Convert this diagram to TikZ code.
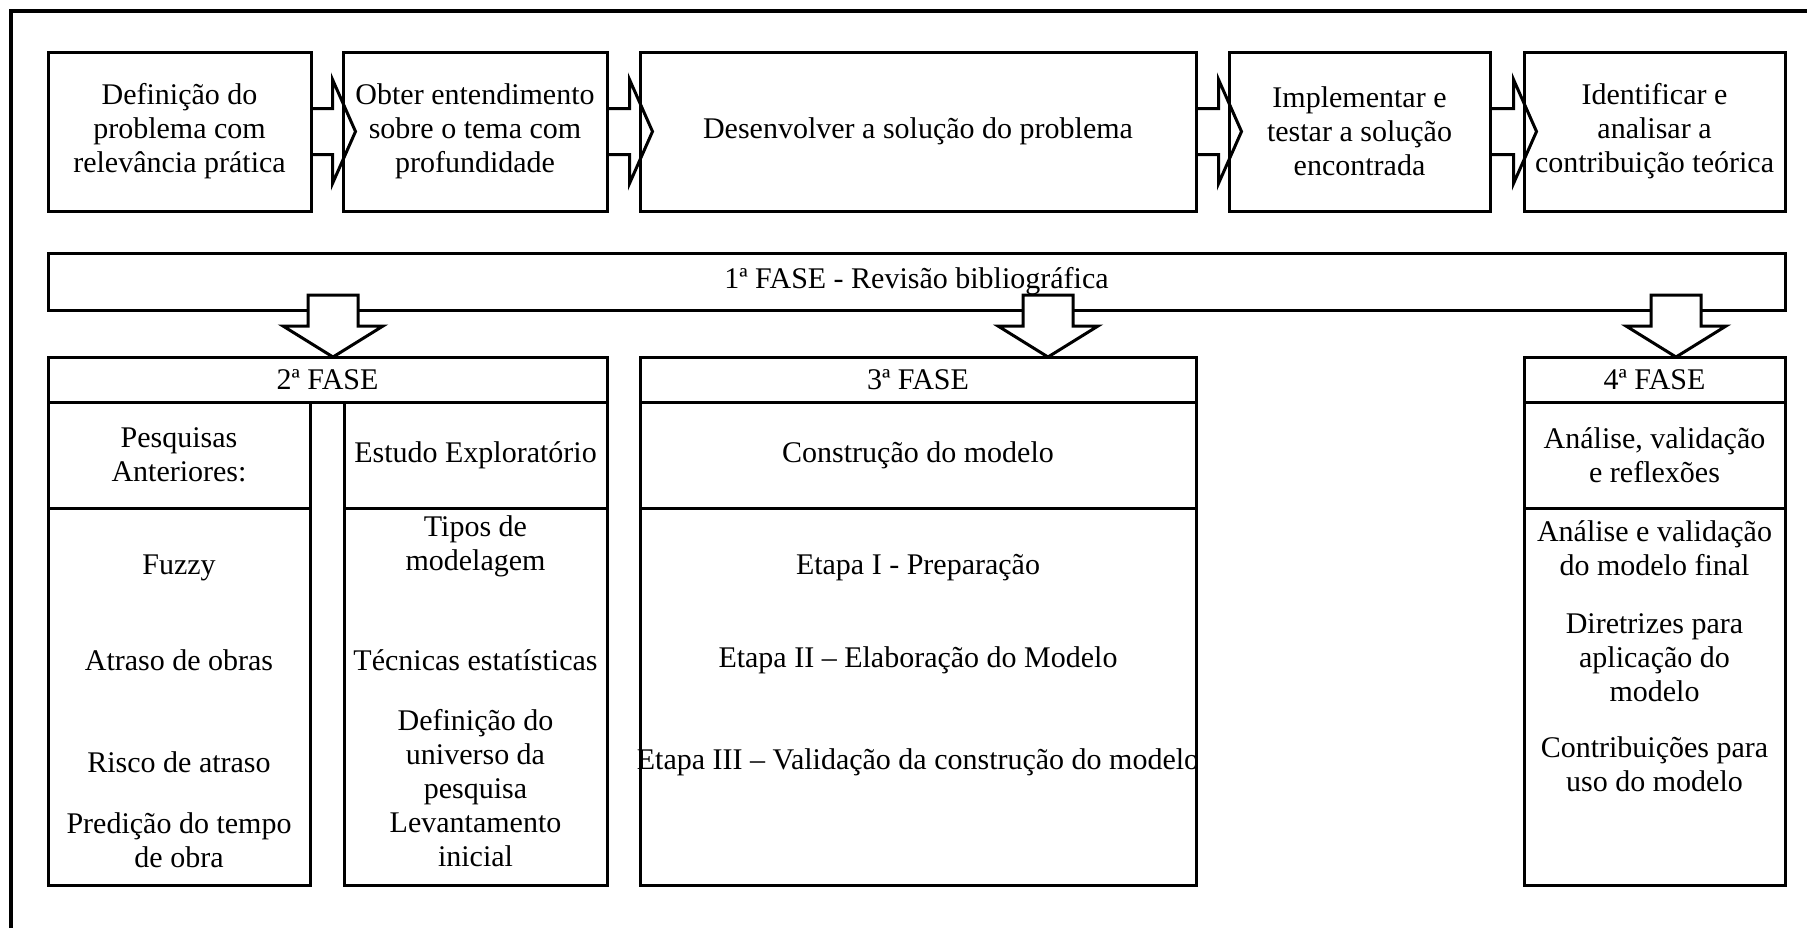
\documentclass[tikz,border=0pt]{standalone}
\usepackage{fontspec}
\setmainfont{Liberation Serif}
\usetikzlibrary{calc}
\tikzset{
  box/.style={draw, line width=1.5pt, align=center, inner sep=0pt, font=\fontsize{15}{17}\selectfont},
  txt/.style={align=center, inner sep=0pt, font=\fontsize{15}{17}\selectfont},
  fatarrow/.style={draw, line width=1.5pt, line join=miter},
}

\begin{document}
\begin{tikzpicture}[x=0.5pt,y=-0.5pt]
\useasboundingbox (0,0) rectangle (1807,928);
% moldura
\draw[line width=1.6pt] (11,928) -- (11,11) -- (1807,11);

% etapas do topo
\node[box, minimum width=131.5pt, minimum height=79.5pt] (b1) at (179.5,131.5) {Definição do\\problema com\\relevância prática};
\node[box, minimum width=132pt, minimum height=79.5pt] (b2) at (475,131.5) {Obter entendimento\\sobre o tema com\\profundidade};
\node[box, minimum width=278pt, minimum height=79.5pt] (b3) at (918,131.5) {Desenvolver a solução do problema};
\node[box, minimum width=130.5pt, minimum height=79.5pt] (b4) at (1359.5,131.5) {Implementar e\\testar a solução\\encontrada};
\node[box, minimum width=130.5pt, minimum height=79.5pt] (b5) at (1654.5,131.5) {Identificar e\\analisar a\\contribuição teórica};

\foreach \a/\b in {b1/b2,b2/b3,b3/b4,b4/b5}
  \draw[fatarrow] ($(\a.east)+(0,-23)$) -- ($(\b.west)+(-9,-23)$) -- ++(0,-29)
    -- ($(\b.west)+(14,0)$) -- ($(\b.west)+(-9,52)$) -- ++(0,-29) -- ($(\a.east)+(0,23)$);

% 1a fase
\node[box, minimum width=868.5pt, minimum height=28.5pt] (f1) at (916.5,281.5) {1ª FASE - Revisão bibliográfica};

% cabecalhos das fases
\node[box, minimum width=279.5pt, minimum height=22.5pt] (f2) at (327.5,379.5) {2ª FASE};
\node[box, minimum width=278pt, minimum height=22.5pt] (f3) at (918,379.5) {3ª FASE};
\node[box, minimum width=130.5pt, minimum height=22.5pt] (f4) at (1654.5,379.5) {4ª FASE};

\foreach \x in {333,1048,1676}
  \draw[fatarrow, fill=white] (\x-25,295) -- (\x+25,295) -- (\x+25,326) -- (\x+50,326)
    -- (\x,357) -- (\x-50,326) -- (\x-25,326) -- cycle;

% colunas
\node[box, minimum width=131pt, minimum height=53pt] (s2a) at (179,455) {Pesquisas\\Anteriores:};
\node[box, minimum width=131.5pt, minimum height=53pt] (s2b) at (475.5,455) {Estudo Exploratório};
\node[box, minimum width=278pt, minimum height=53pt] (s3) at (918,455) {Construção do modelo};
\node[box, minimum width=130.5pt, minimum height=53pt] (s4) at (1654.5,455) {Análise, validação\\e reflexões};

\node[box, minimum width=131pt, minimum height=188.5pt] (c2a) at (179,696.5) {};
\node[box, minimum width=131.5pt, minimum height=188.5pt] (c2b) at (475.5,696.5) {};
\node[box, minimum width=278pt, minimum height=188.5pt] (c3) at (918,696.5) {};
\node[box, minimum width=130.5pt, minimum height=188.5pt] (c4) at (1654.5,696.5) {};

% itens
\node[txt] (fuzzy) at (179,568) {Fuzzy};
\node[txt] (atraso) at (179,660) {Atraso de obras};
\node[txt] (risco) at (179,762) {Risco de atraso};
\node[txt] (predicao) at (179,840) {Predição do tempo\\de obra};

\node[txt] (tipos) at (475.5,546) {Tipos de\\modelagem};
\node[txt] (tecnicas) at (475.5,660) {Técnicas estatísticas};
\node[txt] (universo) at (475.5,757) {Definição do\\universo da\\pesquisa};
\node[txt] (levant) at (475.5,840) {Levantamento\\inicial};

\node[txt] (etapa1) at (918,568) {Etapa I - Preparação};
\node[txt] (etapa2) at (918,660) {Etapa II – Elaboração do Modelo};
\node[txt] (etapa3) at (918,762) {Etapa III – Validação da construção do modelo};

\node[txt] (analise) at (1654.5,548) {Análise e validação\\do modelo final};
\node[txt] (diretrizes) at (1654.5,658) {Diretrizes para\\aplicação do\\modelo};
\node[txt] (contrib) at (1654.5,764) {Contribuições para\\uso do modelo};
\end{tikzpicture}
\end{document}
